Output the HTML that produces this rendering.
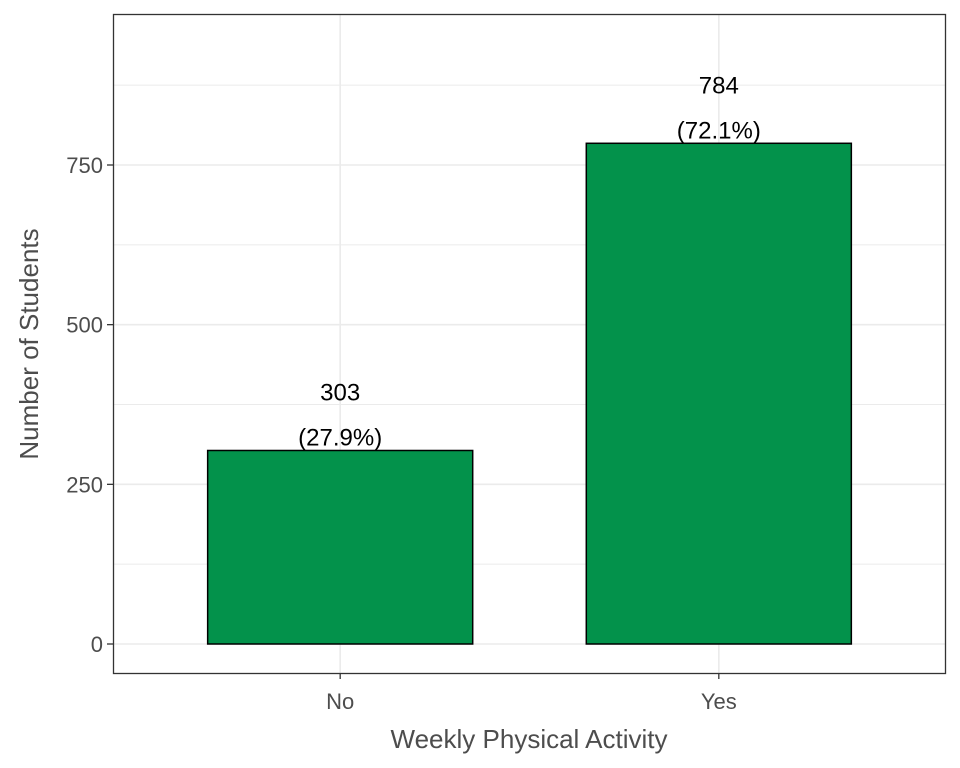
<!DOCTYPE html>
<html><head><meta charset="utf-8"><style>
body{margin:0;background:#fff}
svg{display:block;font-family:"Liberation Sans",Arial,sans-serif}
</style></head><body>
<svg id="chart" width="960" height="768">
<rect x="0" y="0" width="960" height="768" fill="#fff"/>
<g id="grid"></g><g id="bars"></g><g id="labels"></g><g id="axes"></g>
<rect x="113.5" y="14.5" width="832" height="659" fill="none" stroke="#333" stroke-width="1.3"/>
<text x="529" y="748" text-anchor="middle" font-size="26" fill="#4d4d4d">Weekly Physical Activity</text>
<text transform="translate(38,344) rotate(-90)" text-anchor="middle" font-size="26" fill="#4d4d4d">Number of Students</text>
</svg>
<script>
const categories=["No","Yes"];
const counts=[303,784];
const percents=["27.9%","72.1%"];
const yTicks=[0,250,500,750];
const yMinor=[125,375,625,875];
const NS="http://www.w3.org/2000/svg";
const x0=113,x1=946,yTop=14,yZero=644,perUnit=(644-165)/750;
const y=v=>yZero-v*perUnit;
const step=(x1-x0)/(categories.length+0.2);
const xc=i=>x0+step*0.6+i*step;
const bw=step*0.7;
function mk(tag,attrs,parent){const e=document.createElementNS(NS,tag);for(const k in attrs)e.setAttribute(k,attrs[k]);parent.appendChild(e);return e;}
const grid=document.getElementById('grid'),bars=document.getElementById('bars'),labels=document.getElementById('labels'),axes=document.getElementById('axes');
yMinor.forEach(v=>{const l=mk('line',{x1:x0,x2:x1,y1:y(v),y2:y(v),stroke:'#ebebeb','stroke-width':1},grid);

});
yTicks.forEach(v=>{const l=mk('line',{x1:x0,x2:x1,y1:y(v),y2:y(v),stroke:'#ebebeb','stroke-width':1.6},grid);


const t=mk('line',{x1:x0-6,x2:x0,y1:y(v),y2:y(v),stroke:'#333','stroke-width':1.3},axes);


const tx=mk('text',{x:x0-10,y:y(v)+8,'text-anchor':'end','font-size':22,fill:'#4d4d4d'},axes);tx.textContent=v;

});
categories.forEach((c,i)=>{const cx=xc(i);
const g=mk('line',{x1:cx,x2:cx,y1:yTop,y2:673,stroke:'#ebebeb','stroke-width':1.6},grid);


const r=mk('rect',{x:cx-bw/2,y:y(counts[i]),width:bw,height:yZero-y(counts[i]),fill:'#03924b',stroke:'#000','stroke-width':1.5},bars);


const t1=mk('text',{x:cx,y:y(counts[i])-50,'text-anchor':'middle','font-size':24,fill:'#000'},labels);t1.textContent=counts[i];


const t2=mk('text',{x:cx,y:y(counts[i])-5,'text-anchor':'middle','font-size':24,fill:'#000'},labels);t2.textContent='('+percents[i]+')';


const tk=mk('line',{x1:cx,x2:cx,y1:673,y2:679,stroke:'#333','stroke-width':1.3},axes);


const tl=mk('text',{x:cx,y:709,'text-anchor':'middle','font-size':22,fill:'#4d4d4d'},axes);tl.textContent=c;

});
</script>
</body></html>
